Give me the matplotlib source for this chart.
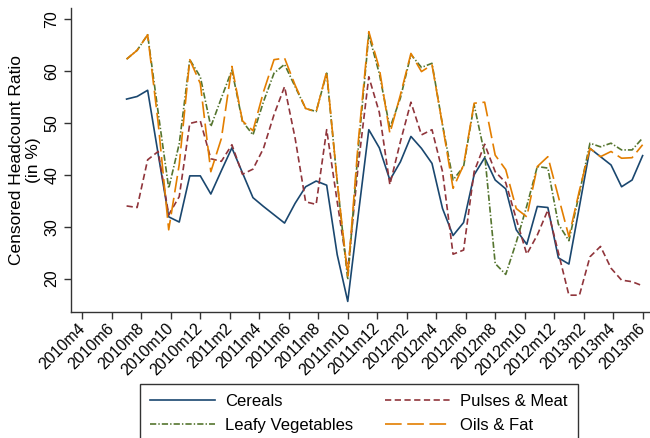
import numpy as np
import matplotlib
matplotlib.use("Agg")
import matplotlib.pyplot as plt

plt.rcParams['font.family'] = ['Liberation Sans', 'DejaVu Sans']
plt.rcParams['lines.scale_dashes'] = False

month_labels = ["2010m4", "2010m6", "2010m8", "2010m10", "2010m12",
                "2011m2", "2011m4", "2011m6", "2011m8", "2011m10", "2011m12",
                "2012m2", "2012m4", "2012m6", "2012m8", "2012m10", "2012m12",
                "2013m2", "2013m4", "2013m6"]

# survey rounds, 2010m7 .. 2013m6
cereals = [54.6, 55.1, 56.3, 44.0, 31.9, 30.9, 39.8, 39.8, 36.3, 40.8,
           45.2, 40.4, 35.6, 33.9, 32.3, 30.7, 34.5, 37.7, 38.8, 38.0,
           24.6, 15.6, 32.3, 48.7, 45.2, 39.0, 42.5, 47.4, 45.1, 42.2,
           33.5, 28.3, 30.8, 40.0, 43.3, 39.0, 37.3, 29.4, 26.6, 33.9,
           33.7, 24.0, 22.8, 33.9, 45.1, 43.5, 41.9, 37.7, 39.0, 43.7]
pulses_meat = [34.0, 33.7, 42.9, 44.5, 32.3, 35.8, 49.9, 50.4, 43.1, 42.6,
               45.8, 40.1, 41.1, 45.1, 51.6, 57.0, 47.1, 34.8, 34.3, 48.7,
               34.8, 21.5, 41.9, 58.9, 52.0, 38.1, 46.4, 54.0, 47.7, 48.7,
               40.6, 24.7, 25.5, 40.6, 45.9, 40.6, 38.5, 31.5, 24.7, 28.4,
               33.2, 25.0, 16.8, 16.8, 24.2, 26.2, 22.0, 19.7, 19.4, 18.6]
leafy_veg = [62.3, 64.0, 67.0, 52.0, 37.4, 46.0, 62.2, 58.9, 49.3, 54.8,
             60.2, 50.3, 47.7, 54.1, 59.6, 61.3, 57.0, 52.8, 52.2, 59.6,
             38.7, 19.8, 45.1, 67.0, 59.5, 49.0, 54.8, 63.2, 60.7, 61.5,
             49.6, 39.0, 41.6, 53.5, 44.0, 22.9, 20.8, 27.0, 34.0, 41.6,
             41.3, 30.5, 27.3, 36.5, 46.1, 45.4, 46.1, 44.8, 44.8, 47.1]
oils_fat = [62.3, 64.0, 67.0, 50.0, 29.4, 42.0, 62.2, 57.6, 40.6, 47.0,
            60.9, 50.4, 48.5, 56.0, 62.2, 62.5, 57.3, 52.8, 52.1, 59.9,
            38.7, 20.5, 46.4, 67.6, 60.5, 48.0, 55.4, 63.4, 59.9, 61.2,
            49.6, 37.4, 41.9, 53.8, 54.0, 43.8, 41.0, 33.5, 31.9, 41.6,
            43.5, 35.8, 28.1, 37.0, 45.1, 43.5, 44.5, 43.2, 43.3, 45.8]

# x in months after 2010m4
rounds = np.linspace(3, 38, len(cereals))
tick_pos = np.arange(0, 2 * len(month_labels), 2)

fig = plt.figure(figsize=(6.5, 4.38), dpi=100)
ax = fig.add_axes([70.7 / 650, 1 - 312.3 / 438, 1 - 70.7 / 650, (312.3 - 8.3) / 438])

lw = 1.2
l_cer, = ax.plot(rounds, cereals, color='#1a476f', lw=lw, label='Cereals')
l_pul, = ax.plot(rounds, pulses_meat, color='#90353b', lw=lw,
                 dashes=(4.5, 2.5), label='Pulses & Meat')
l_veg, = ax.plot(rounds, leafy_veg, color='#55752f', lw=lw,
                 dashes=(4.5, 1.5, 1, 1.5), label='Leafy Vegetables')
l_oil, = ax.plot(rounds, oils_fat, color='#e37e00', lw=lw,
                 dashes=(12, 4), label='Oils & Fat')

ax.set_xlim(-0.79, 38.5)
ax.set_ylim(13.5, 72.1)

ax.set_xticks(tick_pos)
ax.set_xticklabels(month_labels, rotation=45, ha='right', va='center',
                   rotation_mode='anchor', fontsize=11.5)
ax.set_yticks([20, 30, 40, 50, 60, 70])
ax.set_yticklabels(['20', '30', '40', '50', '60', '70'], rotation=90,
                   va='center', fontsize=11.5)
ax.tick_params(axis='both', direction='out', length=5, width=1, color='#333333')
ax.tick_params(axis='x', pad=5)
ax.tick_params(axis='y', pad=3)

for side in ['top', 'right']:
    ax.spines[side].set_visible(False)
for side in ['left', 'bottom']:
    ax.spines[side].set_color('#333333')
    ax.spines[side].set_linewidth(1)

ax.set_ylabel('Censored Headcount Ratio\n(in %)', fontsize=12.5, linespacing=1.2)
ax.yaxis.set_label_coords(-0.051, 0.5)

leg = fig.legend([l_cer, l_veg, l_pul, l_oil],
                 ['Cereals', 'Leafy Vegetables', 'Pulses & Meat', 'Oils & Fat'],
                 ncol=2, loc='upper left', bbox_to_anchor=(140 / 650, 1 - 384.3 / 438),
                 bbox_transform=fig.transFigure, borderaxespad=0, fontsize=12,
                 frameon=True, fancybox=False, framealpha=1, edgecolor='#333333',
                 borderpad=0.6, handlelength=3.9, handletextpad=0.62,
                 columnspacing=1.9, labelspacing=0.5)
leg.get_frame().set_linewidth(1)

fig.savefig('out.png', dpi=100)
